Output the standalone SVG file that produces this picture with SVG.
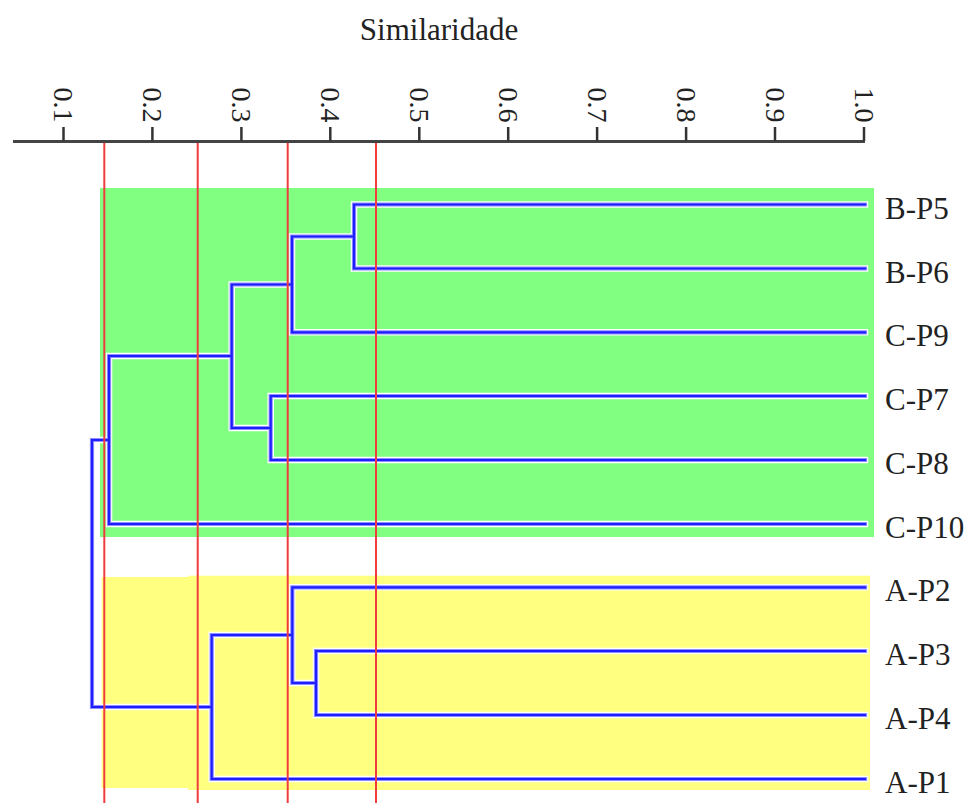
<svg xmlns="http://www.w3.org/2000/svg" width="968" height="803" viewBox="0 0 968 803">
<style>
.lbl{font-family:"Liberation Serif","Times New Roman",serif;font-size:31px;fill:#222}
.tk{font-family:"Liberation Serif","Times New Roman",serif;font-size:28px;fill:#222;text-anchor:end}
.halo{fill:none;stroke:#ffffff;stroke-width:6.5;stroke-linejoin:miter;stroke-linecap:square}
.mid{fill:none;stroke:#8f8fff;stroke-width:4.2;stroke-linejoin:miter;stroke-linecap:square}
.br{fill:none;stroke:#1e1eff;stroke-width:2.2;stroke-linejoin:miter;stroke-linecap:square}
.cut{stroke:#f03c3c;stroke-width:2}
.ax{stroke:#444;stroke-width:3}
.tick{stroke:#333;stroke-width:2.5}
</style>
<defs>
<path id="tree" d="M865,204.5 H354 V268.5 H865 M354,236.5 H292 V332.3 H865 M292,284.5 H231.7 V428 H270.7 M865,396 H270.7 V460 H865 M231.7,356 H109 V524 H865 M865,587.3 H292.3 V683 H316 M865,651 H316 V715 H865 M292.3,635 H211.7 V779 H865 M211.7,707 H92 V440 H109"/>
</defs>
<rect width="968" height="803" fill="#ffffff"/>
<g id="bands">
<rect x="100" y="188" width="774" height="349" fill="#80ff80"/>
<rect x="101.7" y="577" width="90" height="211" fill="#ffff80"/>
<rect x="188" y="575.7" width="682" height="214.3" fill="#ffff80"/>
</g>
<g id="connectors">
<use href="#tree" class="halo"/>
<use href="#tree" class="mid"/>
<use href="#tree" class="br"/>
</g>
<g id="cut-lines">
<line class="cut" x1="104.3" y1="140" x2="104.3" y2="803"/>
<line class="cut" x1="197.7" y1="140" x2="197.7" y2="803"/>
<line class="cut" x1="287.7" y1="140" x2="287.7" y2="803"/>
<line class="cut" x1="376" y1="140" x2="376" y2="803"/>
</g>
<g id="axis">
<text x="439" y="40" class="lbl" text-anchor="middle">Similaridade</text>
<line class="ax" x1="13" y1="141.5" x2="865" y2="141.5"/>
<g class="tick">
<line x1="63.5" y1="127" x2="63.5" y2="141"/>
<line x1="152.4" y1="127" x2="152.4" y2="141"/>
<line x1="241.4" y1="127" x2="241.4" y2="141"/>
<line x1="330.3" y1="127" x2="330.3" y2="141"/>
<line x1="419.3" y1="127" x2="419.3" y2="141"/>
<line x1="508.2" y1="127" x2="508.2" y2="141"/>
<line x1="597.1" y1="127" x2="597.1" y2="141"/>
<line x1="686.1" y1="127" x2="686.1" y2="141"/>
<line x1="775" y1="127" x2="775" y2="141"/>
<line x1="864" y1="127" x2="864" y2="141"/>
</g>
<text class="tk" transform="translate(54,122.5) rotate(90)">0.1</text>
<text class="tk" transform="translate(142.9,122.5) rotate(90)">0.2</text>
<text class="tk" transform="translate(231.9,122.5) rotate(90)">0.3</text>
<text class="tk" transform="translate(320.8,122.5) rotate(90)">0.4</text>
<text class="tk" transform="translate(409.8,122.5) rotate(90)">0.5</text>
<text class="tk" transform="translate(498.7,122.5) rotate(90)">0.6</text>
<text class="tk" transform="translate(587.6,122.5) rotate(90)">0.7</text>
<text class="tk" transform="translate(676.6,122.5) rotate(90)">0.8</text>
<text class="tk" transform="translate(765.5,122.5) rotate(90)">0.9</text>
<text class="tk" transform="translate(854.5,122.5) rotate(90)">1.0</text>
</g>
<g id="node-BP5"><text class="lbl" x="885" y="218.5">B-P5</text></g>
<g id="node-BP6"><text class="lbl" x="885" y="282.5">B-P6</text></g>
<g id="node-CP9"><text class="lbl" x="885" y="346.3">C-P9</text></g>
<g id="node-CP7"><text class="lbl" x="885" y="410">C-P7</text></g>
<g id="node-CP8"><text class="lbl" x="885" y="474">C-P8</text></g>
<g id="node-CP10"><text class="lbl" x="885" y="538">C-P10</text></g>
<g id="node-AP2"><text class="lbl" x="885" y="601.3">A-P2</text></g>
<g id="node-AP3"><text class="lbl" x="885" y="665">A-P3</text></g>
<g id="node-AP4"><text class="lbl" x="885" y="729">A-P4</text></g>
<g id="node-AP1"><text class="lbl" x="885" y="793">A-P1</text></g>
</svg>
